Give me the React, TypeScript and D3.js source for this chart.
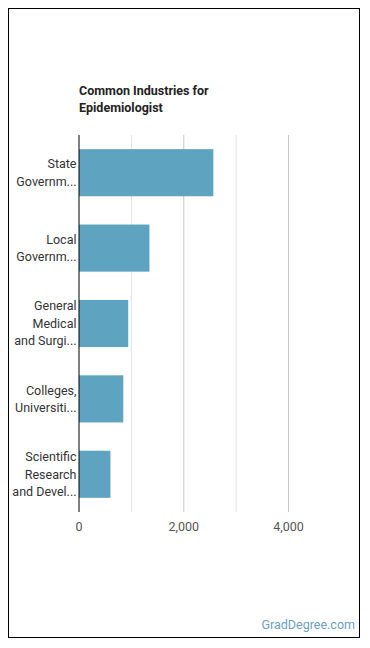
import React from "react";
import * as d3 from "d3";

// Industry categories (label lines) and employment counts
const industries = [
  ["State", "Governm..."],
  ["Local", "Governm..."],
  ["General", "Medical", "and Surgi..."],
  ["Colleges,", "Universiti..."],
  ["Scientific", "Research", "and Devel..."],
];
const employment = [2565, 1345, 940, 845, 600];
const gridTicks = [1000, 2000, 3000, 4000];
const labelTicks = [0, 2000, 4000];

const title = ["Common Industries for", "Epidemiologist"];
const brand = "GradDegree.com";

const W = 352;
const H = 630;
const font = "Roboto, 'Noto Sans', sans-serif";

export default function App() {
  const keys = industries.map((_, i) => String(i));

  const x = d3.scaleLinear().domain([0, 4000]).range([71, 280.5]);
  const y = d3
    .scaleBand()
    .domain(keys)
    .range([127, 504])
    .paddingInner(0.375)
    .paddingOuter(0.1875);

  const fmt = d3.format(",");
  const lineH = 17.5;

  return (
    <svg width={W} height={H} style={{ display: "block" }} fontFamily={font}>
      <rect x={0.5} y={0.5} width={W - 1} height={H - 1} fill="#fff" stroke="#000" />

      {title.map((t, i) => (
        <text key={t} x={71} y={87 + i * 17} fontSize={12.5} fontWeight="bold" fill="#222">
          {t}
        </text>
      ))}

      {/* vertical gridlines */}
      {gridTicks.map((t) => (
        <line
          key={t}
          x1={x(t)}
          x2={x(t)}
          y1={y.range()[0]}
          y2={y.range()[1]}
          stroke={t % 2000 === 0 ? "#c8c8c8" : "#e2e2e2"}
          strokeWidth={1}
        />
      ))}

      {employment.map((v, i) => (
        <rect
          key={i}
          x={x(0)}
          y={y(keys[i])}
          width={x(v) - x(0)}
          height={y.bandwidth()}
          fill="#5ea4c1"
        />
      ))}

      {/* category labels, centred on their bands */}
      {industries.map((lines, i) => {
        const c = (y(keys[i]) as number) + y.bandwidth() / 2;
        const top = c - ((lines.length - 1) * lineH) / 2;
        return (
          <text key={i} textAnchor="end" fontSize={12.5} fill="#333">
            {lines.map((l, j) => (
              <tspan key={j} x={x(0) - 2.5} y={top + j * lineH} dy="0.35em">
                {l}
              </tspan>
            ))}
          </text>
        );
      })}

      <line x1={x(0)} x2={x(0)} y1={y.range()[0]} y2={y.range()[1]} stroke="#000" />

      {labelTicks.map((t) => (
        <text
          key={t}
          x={x(t)}
          y={519}
          dy="0.35em"
          textAnchor="middle"
          fontSize={12.5}
          fill="#555"
        >
          {fmt(t)}
        </text>
      ))}

      <text x={347} y={617} dy="0.35em" textAnchor="end" fontSize={12.5} fill="#6c9fc0">
        {brand}
      </text>
    </svg>
  );
}
